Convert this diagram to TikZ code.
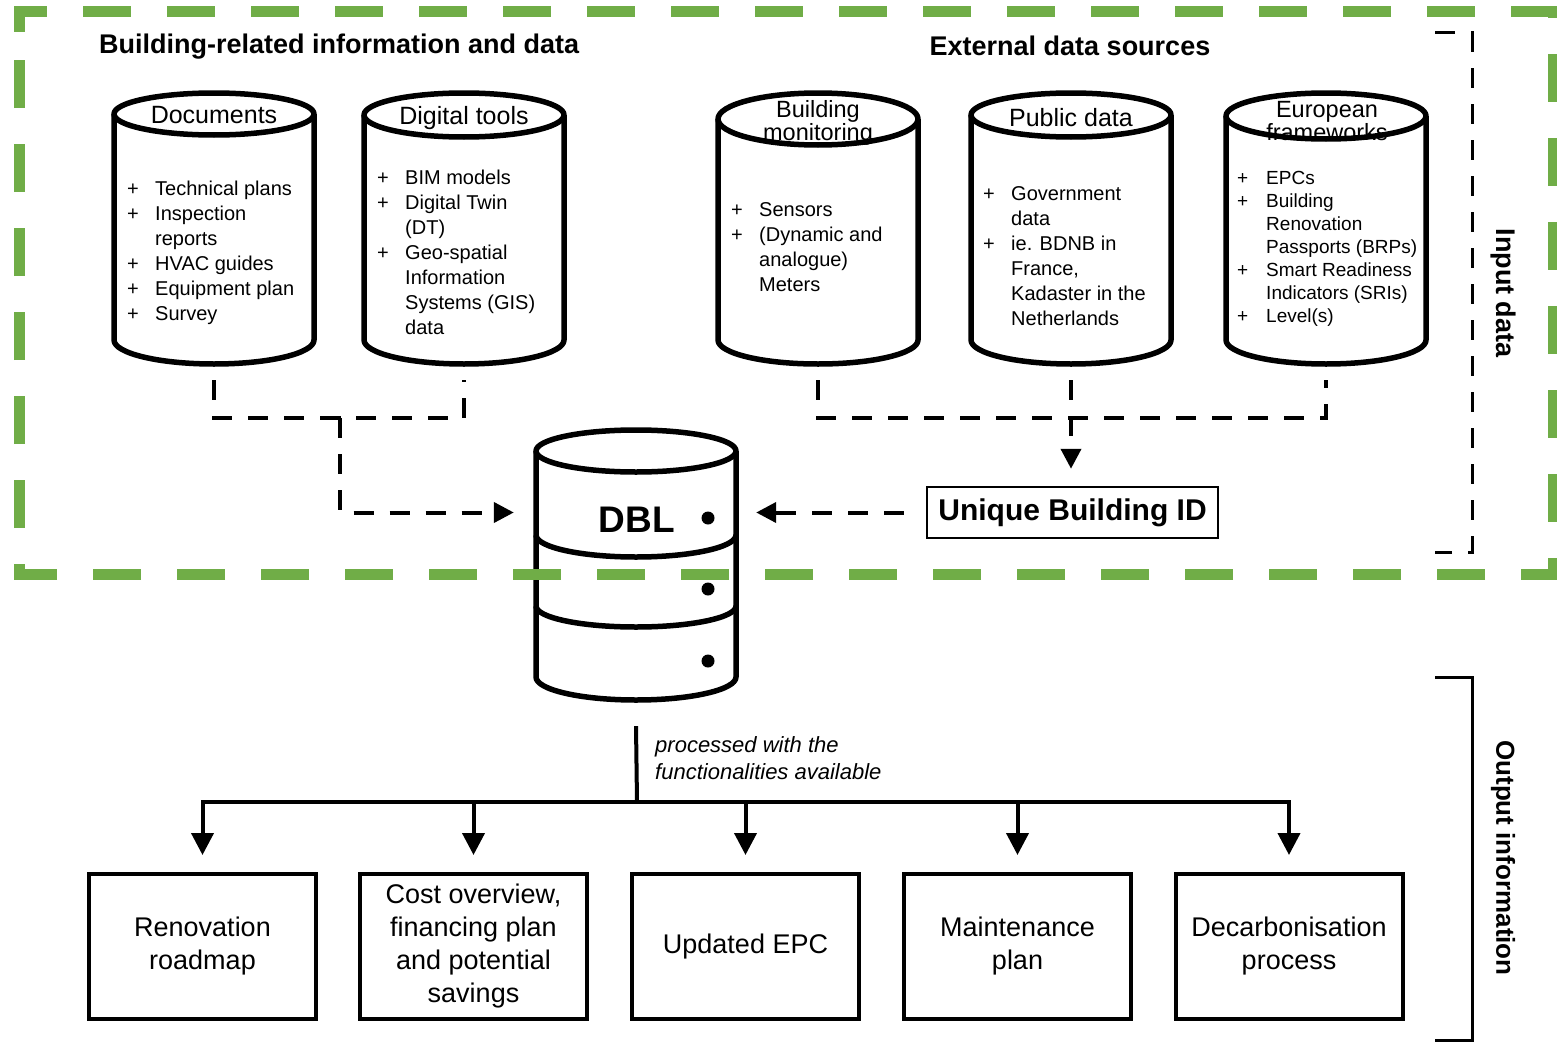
\documentclass[tikz,border=0pt]{standalone}
\usepackage{fontspec}
\setmainfont{Liberation Sans}
\usetikzlibrary{arrows.meta}
\definecolor{frameGreen}{RGB}{112,173,71}

\begin{document}
\begin{tikzpicture}
        [x=1pt, y=-1pt,
        cylNode/.style={minimum width=200pt, minimum height=271pt, inner sep=0pt},
        cylLine/.style={line width=5.5pt, line join=round},
        cylTitle/.style={font=\fontsize{25}{22}\selectfont, align=center, inner sep=0pt},
        cylList/.style={anchor=west, inner sep=0pt, font=\fontsize{20}{25}\selectfont},
        heading/.style={font=\bfseries\fontsize{27}{30}\selectfont, inner sep=0pt},
        dashLine/.style={line width=4pt, dash pattern=on 20pt off 16pt},
        tip/.style={-{Triangle[length=20pt,width=20pt]}},
        idBox/.style={draw, line width=2.5pt, minimum width=291pt, minimum height=51pt, inner sep=0pt, font=\bfseries\fontsize{30}{36}\selectfont},
        outBox/.style={draw, line width=4pt, minimum width=227pt, minimum height=145pt, inner sep=0pt, align=center, font=\fontsize{27}{33}\selectfont},
        bus/.style={line width=4pt},
        outArrow/.style={line width=4pt, -{Triangle[length=22pt,width=22pt]}, shorten >=17pt},
        greenFrame/.style={draw=frameGreen, line width=11pt, dash pattern=on 48pt off 36pt},
        sideLabel/.style={rotate=-90, inner sep=0pt, font=\bfseries\fontsize{26}{30}\selectfont}]
        \useasboundingbox (0,0) rectangle (1557,1041);

        % headings
        \node[heading, anchor=west] (hBuilding) at (99,47) {Building-related information and data};
        \node[heading] (hExternal) at (1070,46) {External data sources};

        % input cylinders
        \node[cylNode] (docs) at (214,228.5) {};
        \node[cylNode] (tools) at (464,228.5) {};
        \node[cylNode] (monitor) at (818,228.5) {};
        \node[cylNode] (public) at (1071,228.5) {};
        \node[cylNode] (europe) at (1326,228.5) {};

        \draw[cylLine] (214,114) ellipse [x radius=100, y radius=21];
        \draw[cylLine] (114,114) -- (114,340) arc[start angle=180, end angle=0, x radius=100, y radius=24] -- (314,114);
        \draw[cylLine] (464,115) ellipse [x radius=100, y radius=22];
        \draw[cylLine] (364,115) -- (364,340) arc[start angle=180, end angle=0, x radius=100, y radius=24] -- (564,115);
        \draw[cylLine] (818,119) ellipse [x radius=100, y radius=26];
        \draw[cylLine] (718,119) -- (718,340) arc[start angle=180, end angle=0, x radius=100, y radius=24] -- (918,119);
        \draw[cylLine] (1071,115) ellipse [x radius=100, y radius=22];
        \draw[cylLine] (971,115) -- (971,340) arc[start angle=180, end angle=0, x radius=100, y radius=24] -- (1171,115);
        \draw[cylLine] (1326,116) ellipse [x radius=100, y radius=23];
        \draw[cylLine] (1226,116) -- (1226,340) arc[start angle=180, end angle=0, x radius=100, y radius=24] -- (1426,116);

        \node[cylTitle] (docsTitle) at (214,115) {Documents};
        \node[cylTitle] (toolsTitle) at (464,118) {Digital tools};
        \node[cylTitle, font=\fontsize{23.5}{20}\selectfont] (monitorTitle) at (818,123) {Building\\monitoring};
        \node[cylTitle] (publicTitle) at (1071,118) {Public data};
        \node[cylTitle, font=\fontsize{23.5}{18}\selectfont] (europeTitle) at (1327,121) {European\\frameworks};

        \node[cylList] (docsList) at (127,253) {\begin{tabular}{@{}p{28pt}@{}l@{}}
            + & Technical plans\\ + & Inspection\\ & reports\\ + & HVAC guides\\ + & Equipment plan\\ + & Survey
        \end{tabular}};
        \node[cylList] (toolsList) at (377,254) {\begin{tabular}{@{}p{28pt}@{}l@{}}
            + & BIM models\\ + & Digital Twin\\ & (DT)\\ + & Geo-spatial\\ & Information\\ & Systems (GIS)\\ & data
        \end{tabular}};
        \node[cylList] (monitorList) at (731,248.5) {\begin{tabular}{@{}p{28pt}@{}l@{}}
            + & Sensors\\ + & (Dynamic and\\ & analogue)\\ & Meters
        \end{tabular}};
        \node[cylList] (publicList) at (983,257.5) {\begin{tabular}{@{}p{28pt}@{}l@{}}
            + & Government\\ & data\\ + & ie. BDNB in\\ & France,\\ & Kadaster in the\\ & Netherlands
        \end{tabular}};
        \node[cylList, font=\fontsize{19}{23}\selectfont] (europeList) at (1237,249) {\begin{tabular}{@{}p{29pt}@{}l@{}}
            + & EPCs\\ + & Building\\ & Renovation\\ & Passports (BRPs)\\ + & Smart Readiness\\ & Indicators (SRIs)\\ + & Level(s)
        \end{tabular}};

        % DBL database
        \node[inner sep=0pt, minimum width=200pt, minimum height=270pt] (dbl) at (636,565) {};
        \draw[cylLine, fill=white] (636,451) ellipse [x radius=100, y radius=21];
        \draw[cylLine] (536,451) -- (536,677) arc[start angle=180, end angle=0, x radius=100, y radius=23] -- (736,451);
        \draw[cylLine] (536,535) arc[start angle=180, end angle=0, x radius=100, y radius=22];
        \draw[cylLine] (536,606) arc[start angle=180, end angle=0, x radius=100, y radius=21];
        \fill (708,518) circle (6.5pt);
        \fill (708,589) circle (6.5pt);
        \fill (708,661) circle (6.5pt);
        \node[font=\bfseries\fontsize{37}{40}\selectfont] (dblText) at (637,520) {DBL};

        \node[idBox] (uid) at (1072.5,512.5) {Unique Building ID};

        % dashed input connectors
        \coordinate (leftJoin) at (340,418);
        \coordinate (rightJoin) at (1071,418);
        \draw[dashLine] ([yshift=-16pt]docs.south) |- (leftJoin) -| ([yshift=-16pt]tools.south);
        \draw[dashLine, tip, shorten >=22pt] (leftJoin) |- (dbl.west |- uid.center);
        \draw[dashLine] ([yshift=-16pt]monitor.south) |- (rightJoin) -| ([yshift=-16pt]europe.south);
        \draw[dashLine, tip, shorten <=16pt, shorten >=17pt] (public.south) -- (public.south |- uid.north);
        \draw[dashLine, tip, shorten <=22pt, shorten >=20pt] (uid.west) -- (dbl.east |- uid.center);

        % frames
        \draw[greenFrame] (19,32) -- (19,12) -- (1553,12) -- (1553,574) -- (19,574) -- cycle;
        \draw[line width=3pt, dash pattern=on 20pt off 16pt] (1435,33) -- (1472,33) -- (1472,552) -- (1435,552);
        \draw[line width=3pt] (1435,677) -- (1472,677) -- (1472,1040) -- (1435,1040);
        \node[sideLabel, font=\bfseries\fontsize{27}{30}\selectfont] (inputLbl) at (1503,293) {Input data};
        \node[sideLabel] (outputLbl) at (1503,858) {Output information};

        % outputs
        \node[outBox] (roadmap) at (202.5,946.5) {Renovation\\roadmap};
        \node[outBox] (costs) at (473.5,946.5) {Cost overview,\\financing plan\\and potential\\savings};
        \node[outBox] (epc) at (745.5,946.5) {Updated EPC};
        \node[outBox] (maint) at (1017.5,946.5) {Maintenance\\plan};
        \node[outBox] (decarb) at (1289,946.5) {Decarbonisation\\process};

        \coordinate (split) at (637,802);
        \draw[bus] ([yshift=-26pt]dbl.south) -- (split);
        \node[anchor=west, align=left, inner sep=0pt, font=\itshape\fontsize{22}{27}\selectfont] (note) at (655,758) {processed with the\\functionalities available};
        \draw[bus, line cap=rect] (roadmap.north |- split) -- (decarb.north |- split);
        \draw[outArrow] (roadmap.north |- split) -- (roadmap.north);
        \draw[outArrow] (costs.north |- split) -- (costs.north);
        \draw[outArrow] (epc.north |- split) -- (epc.north);
        \draw[outArrow] (maint.north |- split) -- (maint.north);
        \draw[outArrow] (decarb.north |- split) -- (decarb.north);

    \end{tikzpicture}
\end{document}
